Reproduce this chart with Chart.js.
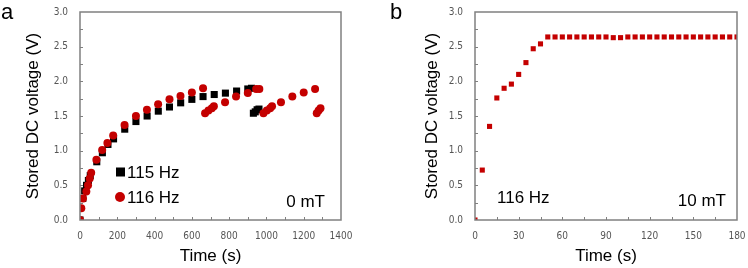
<!DOCTYPE html>
<html>
<head>
<meta charset="utf-8">
<script src="https://cdn.jsdelivr.net/npm/chart.js@4.4.1/dist/chart.umd.min.js"></script>
<style>
  html, body { margin: 0; padding: 0; background: #fff; }
  #wrap { position: relative; width: 748px; height: 268px; }
  .panel { position: absolute; top: 0; width: 374px; height: 268px; }
  #pa { left: 0; }
  #pb { left: 374px; }
</style>
</head>
<body>
<div id="wrap">
  <div class="panel" id="pa"><canvas id="chartA" width="374" height="268"></canvas></div>
  <div class="panel" id="pb"><canvas id="chartB" width="374" height="268"></canvas></div>
</div>
<script>
// panel a: charging curves at 0 mT (time in s, voltage in V)
const timeA115 = [0, 15, 25, 35, 45, 55, 90, 120, 150, 180, 240, 300, 360, 420, 480, 540, 600, 660, 720, 780, 840, 900, 920, 930, 940, 950, 960];
const voltA115 = [0, 0.31, 0.42, 0.50, 0.57, 0.64, 0.84, 0.97, 1.09, 1.17, 1.31, 1.42, 1.50, 1.57, 1.63, 1.69, 1.74, 1.78, 1.81, 1.83, 1.86, 1.89, 1.90, 1.54, 1.56, 1.59, 1.60];

const timeA116 = [0, 7, 16, 34, 43, 52, 60, 88, 119, 147, 178, 239, 300, 359, 419, 480, 539, 600, 660, 671, 689, 707, 718, 778, 837, 900, 945, 962, 984, 1002, 1020, 1030, 1078, 1139, 1200, 1261, 1270, 1280, 1290];
const voltA116 = [0, 0.17, 0.31, 0.41, 0.50, 0.60, 0.68, 0.87, 1.01, 1.11, 1.22, 1.37, 1.50, 1.59, 1.67, 1.74, 1.79, 1.84, 1.90, 1.54, 1.58, 1.61, 1.64, 1.70, 1.78, 1.83, 1.89, 1.89, 1.54, 1.58, 1.61, 1.64, 1.70, 1.78, 1.84, 1.89, 1.54, 1.58, 1.61];

// panel b: 116 Hz at 10 mT, one reading every 5 s
const timeB = [0, 5, 10, 15, 20, 25, 30, 35, 40, 45, 50, 55, 60, 65, 70, 75, 80, 85, 90, 95, 100, 105, 110, 115, 120, 125, 130, 135, 140, 145, 150, 155, 160, 165, 170, 175, 180];
const voltB = [0, 0.72, 1.35, 1.76, 1.90, 1.96, 2.10, 2.27, 2.47, 2.54, 2.64, 2.64, 2.64, 2.64, 2.64, 2.64, 2.64, 2.64, 2.64, 2.63, 2.63, 2.64, 2.64, 2.64, 2.64, 2.64, 2.64, 2.64, 2.64, 2.64, 2.64, 2.64, 2.64, 2.64, 2.64, 2.64, 2.64];

const yTicks = [0, 0.5, 1.0, 1.5, 2.0, 2.5, 3.0];

const RED = '#c40000';
const AXIS_GREY = '#808080';
const TICK_FONT = { family: "'DejaVu Sans Condensed', 'Liberation Sans', sans-serif", size: 10 };
const TITLE_FONT = { family: "'Liberation Sans', Arial, sans-serif", size: 17 };

const pts = (xs, ys) => xs.map((x, i) => ({ x: x, y: ys[i] }));

// box round the plot + short ticks pointing inward, placed with the chart's own scales
const framePlugin = {
    id: 'frame',
    afterDraw(chart, args, opts) {
        const { ctx, chartArea: a, scales: { x, y } } = chart;
        ctx.save();
        ctx.strokeStyle = AXIS_GREY;
        ctx.lineWidth = 1;
        ctx.beginPath();
        const nx = Math.round((x.max - x.min) / opts.xStep);
        for (let i = 1; i < nx; i++) {
            const px = Math.round(x.getPixelForValue(x.min + i * opts.xStep)) + 0.5;
            ctx.moveTo(px, a.bottom);
            ctx.lineTo(px, a.bottom - 3);
        }
        const ny = Math.round((y.max - y.min) / opts.yStep);
        for (let i = 1; i < ny; i++) {
            const py = Math.round(y.getPixelForValue(y.min + i * opts.yStep)) + 0.5;
            ctx.moveTo(a.left, py);
            ctx.lineTo(a.left + 3, py);
        }
        ctx.stroke();
        ctx.lineWidth = 1.5;
        ctx.strokeRect(a.left, a.top, a.right - a.left, a.bottom - a.top);
        ctx.restore();
    }
};

// panel letter, in-plot legend and condition labels
const notesPlugin = {
    id: 'notes',
    afterDraw(chart, args, opts) {
        const { ctx } = chart;
        ctx.save();
        ctx.fillStyle = '#000';
        ctx.textBaseline = 'alphabetic';
        ctx.font = "22px 'Liberation Sans', Arial, sans-serif";
        ctx.textAlign = 'left';
        ctx.fillText(opts.letter.text, opts.letter.x, opts.letter.y);
        ctx.font = "17px 'Liberation Sans', Arial, sans-serif";
        (opts.items || []).forEach(it => {
            if (it.marker === 'rect') {
                ctx.fillStyle = it.color;
                ctx.fillRect(it.mx - 4.5, it.my - 4.5, 9, 9);
            } else if (it.marker === 'circle') {
                ctx.fillStyle = it.color;
                ctx.beginPath();
                ctx.arc(it.mx, it.my, 5, 0, Math.PI * 2);
                ctx.fill();
            }
            ctx.fillStyle = '#000';
            ctx.textAlign = it.align || 'left';
            ctx.fillText(it.text, it.x, it.y);
        });
        ctx.restore();
    }
};

function makeScales(xMax, xStep, yWidth, yTitlePad) {
    return {
        x: {
            type: 'linear',
            min: 0,
            max: xMax,
            afterBuildTicks: (s) => {
                const t = [];
                for (let v = 0; v <= xMax; v += xStep) t.push({ value: v });
                s.ticks = t;
            },
            afterFit: (s) => { s.height = 48; },
            grid: { display: false },
            border: { display: false },
            ticks: { color: '#555', font: TICK_FONT, padding: 2, maxRotation: 0, autoSkip: false, callback: v => String(v) },
            title: { display: true, text: 'Time (s)', color: '#000', font: TITLE_FONT, padding: { top: 0, bottom: 1 } }
        },
        y: {
            type: 'linear',
            min: 0,
            max: 3,
            afterBuildTicks: (s) => { s.ticks = yTicks.map(v => ({ value: v })); },
            afterFit: (s) => { s.width = yWidth; },
            grid: { display: false },
            border: { display: false },
            ticks: { color: '#555', font: TICK_FONT, padding: 4, callback: v => v.toFixed(1) },
            title: { display: true, text: 'Stored DC voltage (V)', color: '#000', font: TITLE_FONT, padding: { top: yTitlePad, bottom: 0 } }
        }
    };
}

function initChartA() {
    const ctx = document.getElementById('chartA').getContext('2d');
    new Chart(ctx, {
        type: 'scatter',
        data: {
            datasets: [
                {
                    label: '116 Hz',
                    data: pts(timeA116, voltA116),
                    pointStyle: 'circle',
                    pointRadius: 4,
                    backgroundColor: RED,
                    borderWidth: 0,
                    order: 0
                },
                {
                    label: '115 Hz',
                    data: pts(timeA115, voltA115),
                    pointStyle: 'rect',
                    pointRadius: 5,
                    backgroundColor: '#000',
                    borderWidth: 0,
                    order: 1
                }
            ]
        },
        options: {
            responsive: false,
            animation: false,
            layout: { padding: { left: 0, right: 33, top: 12, bottom: 0 } },
            plugins: {
                legend: { display: false },
                tooltip: { enabled: false },
                frame: { xStep: 100, yStep: 0.25 },
                notes: {
                    letter: { text: 'a', x: 1, y: 19 },
                    items: [
                        { marker: 'rect', color: '#000', mx: 120.5, my: 172, text: '115 Hz', x: 127, y: 178 },
                        { marker: 'circle', color: RED, mx: 120, my: 197, text: '116 Hz', x: 127, y: 203 },
                        { text: '0 mT', x: 325, y: 207, align: 'right' }
                    ]
                }
            },
            scales: makeScales(1400, 200, 80, 23)
        },
        plugins: [framePlugin, notesPlugin]
    });
}

function initChartB() {
    const ctx = document.getElementById('chartB').getContext('2d');
    new Chart(ctx, {
        type: 'scatter',
        data: {
            datasets: [{
                label: '116 Hz',
                data: pts(timeB, voltB),
                pointStyle: 'rect',
                pointRadius: 3.6,
                backgroundColor: RED,
                borderWidth: 0
            }]
        },
        options: {
            responsive: false,
            animation: false,
            layout: { padding: { left: 0, right: 11, top: 12, bottom: 0 } },
            plugins: {
                legend: { display: false },
                tooltip: { enabled: false },
                frame: { xStep: 15, yStep: 0.25 },
                notes: {
                    letter: { text: 'b', x: 16, y: 19 },
                    items: [
                        { text: '116 Hz', x: 123, y: 203 },
                        { text: '10 mT', x: 352, y: 206, align: 'right' }
                    ]
                }
            },
            scales: makeScales(180, 30, 101, 48)
        },
        plugins: [framePlugin, notesPlugin]
    });
}

initChartA();
initChartB();
</script>
</body>
</html>
